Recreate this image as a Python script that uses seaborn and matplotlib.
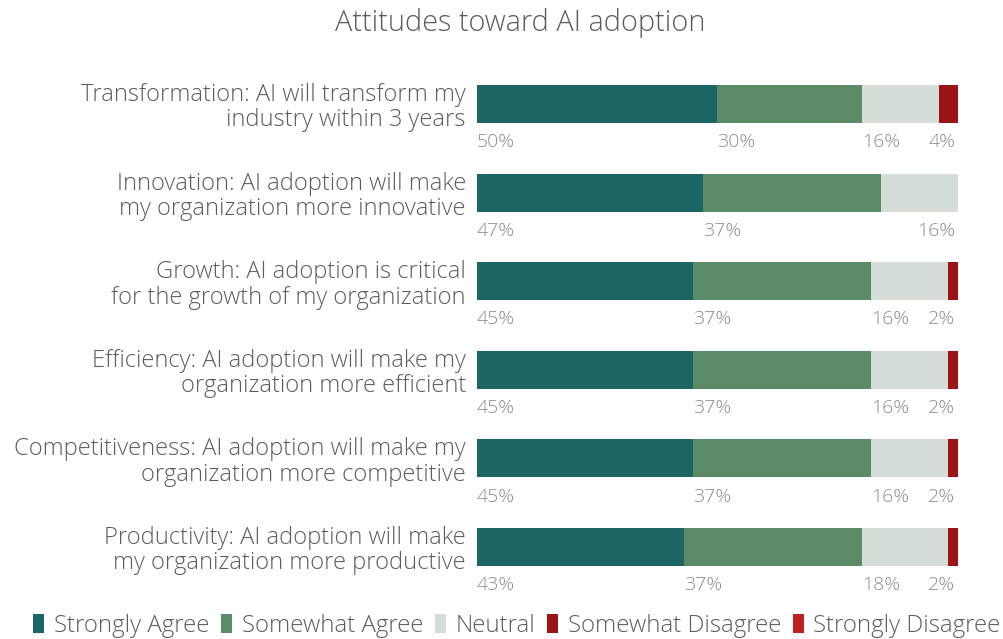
import matplotlib
matplotlib.use("Agg")
import matplotlib.pyplot as plt
import seaborn as sns
import pandas as pd
import numpy as np
from matplotlib.patches import Patch

categories = [
    "Transformation: AI will transform my\nindustry within 3 years",
    "Innovation: AI adoption will make\nmy organization more innovative",
    "Growth: AI adoption is critical\nfor the growth of my organization",
    "Efficiency: AI adoption will make my\norganization more efficient",
    "Competitiveness: AI adoption will make my\norganization more competitive",
    "Productivity: AI adoption will make\nmy organization more productive",
]
responses = ["Strongly Agree", "Somewhat Agree", "Neutral",
             "Somewhat Disagree", "Strongly Disagree"]
strongly_agree = [50, 47, 45, 45, 45, 43]
somewhat_agree = [30, 37, 37, 37, 37, 37]
neutral = [16, 16, 16, 16, 16, 18]
somewhat_disagree = [4, 0, 2, 2, 2, 2]
strongly_disagree = [0, 0, 0, 0, 0, 0]

colors = ["#1b6566", "#5b8a66", "#d4ded6", "#9b1518", "#c0201f"]
TEXT = "#5c5c5c"
LABEL = "#8c8c8c"
FONT = ["Open Sans", "DejaVu Sans"]

sns.set_theme(style="white")
plt.rcParams["font.family"] = FONT
plt.rcParams["font.weight"] = "light"

series = [strongly_agree, somewhat_agree, neutral, somewhat_disagree, strongly_disagree]
df = pd.DataFrame({"category": categories})
for name, vals in zip(responses, series):
    df[name] = vals
cum = df[responses].cumsum(axis=1)
cum["category"] = df["category"]

fig = plt.figure(figsize=(10.04, 6.39), dpi=100)
ax = fig.add_axes([477 / 1004, 39 / 639, 481 / 1004, 540 / 639])

# stacked bars: draw cumulative totals from the widest layer down
for name, col in reversed(list(zip(responses, colors))):
    sns.barplot(data=cum, x=name, y="category", orient="h", color=col,
                width=0.43, saturation=1, linewidth=0, ax=ax)

ax.set_xlim(0, 100)
ax.set_ylim(5.598, -0.497)
ax.set_xlabel("")
ax.set_ylabel("")
ax.set_xticks([])
sns.despine(ax=ax, left=True, bottom=True)
ax.tick_params(axis="y", length=0, pad=8)
for t in ax.get_yticklabels():
    t.set_fontsize(17.1)
    t.set_color(TEXT)
    t.set_linespacing(1.08)
    t.set_fontweight("light")

# percentage labels under each segment
for i in range(len(categories)):
    vals = [s[i] for s in series]
    nonzero = [k for k, v in enumerate(vals) if v > 0]
    start = 0
    for k, v in enumerate(vals):
        if v > 0:
            if k == nonzero[-1]:
                ax.text(99.4, i + 0.43, f"{v}%", ha="right", va="center",
                        fontsize=14, color=LABEL, fontweight="light")
            else:
                ax.text(start, i + 0.43, f"{v}%", ha="left", va="center",
                        fontsize=14, color=LABEL, fontweight="light")
        start += v

fig.text(520 / 1004, 1 - 23 / 639, "Attitudes toward AI adoption",
         ha="center", va="center", fontsize=20.8, color=TEXT, fontweight="light")

handles = [Patch(facecolor=c, edgecolor="none", label=r) for r, c in zip(responses, colors)]
leg = fig.legend(handles=handles, loc="center", bbox_to_anchor=(517 / 1004, 1 - 626 / 639),
                 ncol=5, frameon=False, fontsize=17.3, handlelength=0.45, handleheight=0.85,
                 handletextpad=0.4, columnspacing=0.5, borderaxespad=0)
for t in leg.get_texts():
    t.set_color(TEXT)
    t.set_fontweight("light")

fig.savefig("out.png", dpi=100)
